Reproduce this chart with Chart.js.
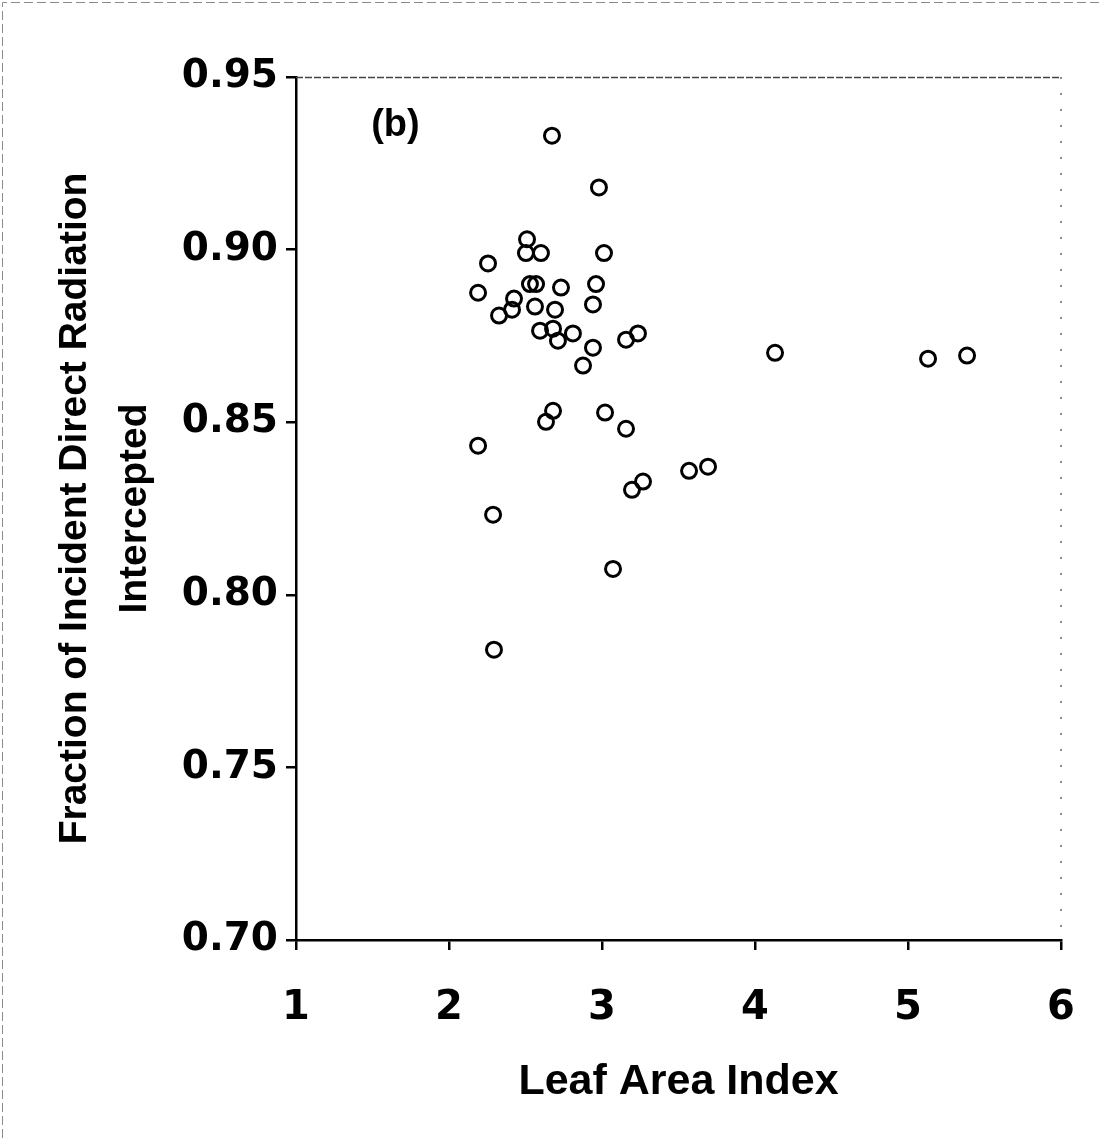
<!DOCTYPE html>
<html><head><meta charset="utf-8">
<script src="https://cdn.jsdelivr.net/npm/chart.js@4.4.1/dist/chart.umd.min.js"></script>
<style>html,body{margin:0;padding:0;background:#fff;}#wrap{width:1102px;height:1138px;position:relative;}canvas{display:block;}</style>
</head><body><div id="wrap"><canvas id="c" width="1102" height="1138"></canvas></div>
<script>
// Leaf Area Index (x) and fraction of incident direct radiation intercepted (y)
const lai = [2.673, 2.980, 2.510, 2.503, 2.601, 3.013, 2.255, 2.529, 2.569, 2.732,
             2.961, 2.190, 2.425, 2.412, 2.327, 2.562, 2.693, 2.941, 2.595, 2.680,
             2.712, 2.810, 2.941, 3.157, 3.235, 2.876, 4.131, 5.131, 5.386, 2.680,
             2.634, 3.020, 3.157, 2.190, 3.196, 3.268, 3.569, 3.693, 2.288, 3.072,
             2.294];
const fraction = [0.933, 0.918, 0.903, 0.899, 0.899, 0.899, 0.896, 0.890, 0.890, 0.889,
                  0.890, 0.8875, 0.8858, 0.8826, 0.8809, 0.8835, 0.8826, 0.8841, 0.8765, 0.8771,
                  0.8736, 0.8757, 0.8716, 0.8739, 0.8757, 0.8664, 0.8701, 0.8684, 0.8693, 0.8533,
                  0.8501, 0.8528, 0.8481, 0.8432, 0.8304, 0.8328, 0.8359, 0.8371, 0.8232, 0.8075,
                  0.7841];
const xTickValues = [1, 2, 3, 4, 5, 6];
const yTickValues = [0.70, 0.75, 0.80, 0.85, 0.90, 0.95];
const xTitle = 'Leaf Area Index';
const yTitle = ['Fraction of Incident Direct Radiation', 'Intercepted'];
const panelLabel = '(b)';
const panelLabelAt = [1.65, 0.936];

const points = lai.map((x, i) => ({x: x, y: fraction[i]}));

const framePlugin = {
  id: 'frame',
  afterDraw(chart) {
    const ctx = chart.ctx, a = chart.chartArea;
    ctx.save();
    // faint outer frame
    ctx.strokeStyle = '#8a8a8a'; ctx.lineWidth = 1; ctx.setLineDash([9, 4]);
    ctx.beginPath(); ctx.moveTo(2.5, 1138); ctx.lineTo(2.5, 2.5); ctx.lineTo(1100, 2.5); ctx.stroke();
    // top border of plot
    ctx.strokeStyle = '#444'; ctx.lineWidth = 1.5; ctx.setLineDash([7, 2]);
    ctx.beginPath(); ctx.moveTo(a.left, a.top + 0.5); ctx.lineTo(a.right, a.top + 0.5); ctx.stroke();
    // right border of plot (sparse dots)
    ctx.strokeStyle = '#666'; ctx.lineWidth = 1.5; ctx.setLineDash([2, 14]);
    ctx.beginPath(); ctx.moveTo(a.right, a.top); ctx.lineTo(a.right, a.bottom); ctx.stroke();
    // panel label
    ctx.setLineDash([]);
    const xs = chart.scales.x, ys = chart.scales.y;
    ctx.fillStyle = '#000';
    ctx.font = 'bold 38px "Liberation Sans", Arial, sans-serif';
    ctx.textAlign = 'center'; ctx.textBaseline = 'middle';
    ctx.fillText(panelLabel, xs.getPixelForValue(panelLabelAt[0]), ys.getPixelForValue(panelLabelAt[1]));
    ctx.restore();
  }
};

const yTickFont = {family: '"DejaVu Sans", sans-serif', weight: 'bold', size: 39};
const xTickFont = {family: '"DejaVu Sans", sans-serif', weight: 'bold', size: 40, lineHeight: 1.6};

new Chart(document.getElementById('c'), {
  type: 'scatter',
  data: {
    datasets: [{
      data: points,
      pointStyle: 'circle',
      pointRadius: 7.5,
      pointHoverRadius: 7.5,
      pointBorderWidth: 3,
      borderColor: '#000',
      backgroundColor: 'rgba(255,255,255,0)',
      showLine: false
    }]
  },
  options: {
    responsive: false,
    devicePixelRatio: 1,
    animation: false,
    events: [],
    layout: {autoPadding: false, padding: {left: 0, right: 41, top: 77, bottom: 0}},
    plugins: {legend: {display: false}, tooltip: {enabled: false}},
    scales: {
      x: {
        type: 'linear', position: 'bottom', min: 1, max: 6,
        afterBuildTicks: s => { s.ticks = xTickValues.map(v => ({value: v})); },
        afterFit: s => { s.height = 198; },
        ticks: {font: xTickFont, color: '#000', padding: 27, maxRotation: 0,
                callback: v => String(v)},
        grid: {display: true, drawOnChartArea: false, drawTicks: true, tickLength: 10,
               color: '#000', tickWidth: 2.5, lineWidth: 2.5},
        border: {display: true, color: '#000', width: 2.5},
        title: {display: true, text: xTitle, color: '#000',
                font: {family: '"Liberation Sans", Arial, sans-serif', weight: 'bold', size: 43, lineHeight: 1.2},
                padding: {top: 0, bottom: 30}}
      },
      y: {
        type: 'linear', position: 'left', min: 0.70, max: 0.95,
        afterBuildTicks: s => { s.ticks = yTickValues.map(v => ({value: v})); },
        afterFit: s => { s.width = 296; },
        ticks: {font: yTickFont, color: '#000', padding: 8,
                callback: v => Number(v).toFixed(2)},
        grid: {display: true, drawOnChartArea: false, drawTicks: true, tickLength: 10,
               color: '#000', tickWidth: 2.5, lineWidth: 2.5},
        border: {display: true, color: '#000', width: 2.5},
        title: {display: true, text: yTitle, color: '#000',
                font: {family: '"Liberation Sans", Arial, sans-serif', weight: 'bold', size: 39, lineHeight: 1.54},
                padding: {top: 45, bottom: 0}}
      }
    }
  },
  plugins: [framePlugin]
});
</script>
</body></html>
